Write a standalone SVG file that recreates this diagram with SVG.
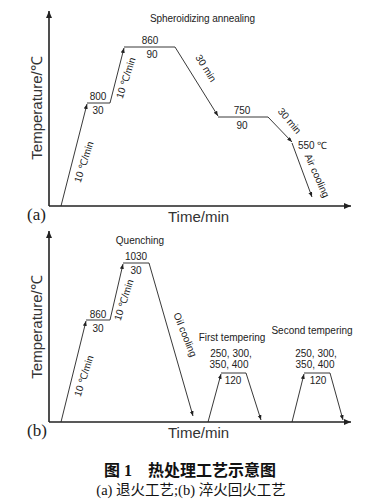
<svg xmlns="http://www.w3.org/2000/svg" width="369" height="500" viewBox="0 0 369 500">
<defs>
<marker id="ah" markerWidth="8" markerHeight="8" refX="7" refY="3" orient="auto" markerUnits="userSpaceOnUse"><path d="M0,0 L7,3 L0,6 Z" fill="#222"/></marker>
<marker id="sa" markerWidth="6" markerHeight="6" refX="5" refY="2" orient="auto" markerUnits="userSpaceOnUse"><path d="M0,0 L5,2 L0,4 Z" fill="#222"/></marker>
<style>
.ax{stroke:#222;stroke-width:1.6;fill:none}
.ln{stroke:#222;stroke-width:0.9;fill:none}
.t{font-family:"Liberation Sans",Arial,sans-serif;font-size:10px;fill:#222}
.c{text-anchor:middle}
.big{font-family:"Liberation Sans",Arial,sans-serif;font-size:15px;fill:#333}
.ser{font-family:"Liberation Serif","Times New Roman",serif;font-size:17px;fill:#222}
.cap{font-family:"Liberation Serif","Noto Sans CJK SC",serif;fill:#111;text-anchor:middle}
</style>
</defs>
<rect width="369" height="500" fill="#fff"/>
<g id="axes">
<line class="ax" x1="49" y1="206" x2="49" y2="11" marker-end="url(#ah)"/>
<line class="ax" x1="49" y1="206" x2="351" y2="206" marker-end="url(#ah)"/>
<line class="ax" x1="49" y1="422" x2="49" y2="231" marker-end="url(#ah)"/>
<line class="ax" x1="49" y1="422" x2="351" y2="422" marker-end="url(#ah)"/>
<text class="big" transform="translate(42,108) rotate(-90)" text-anchor="middle">Temperature/℃</text>
<text class="big" transform="translate(42,327) rotate(-90)" text-anchor="middle">Temperature/℃</text>
<text class="big" x="168" y="222">Time/min</text>
<text class="big" x="168" y="438">Time/min</text>
<text class="ser" x="27" y="220">(a)</text>
<text class="ser" x="27" y="436">(b)</text>
</g>
<g id="connectors">
<path class="ln" d="M61,206 L87,104" marker-end="url(#sa)"/>
<path class="ln" d="M87,103 L110,103 L124,48" marker-end="url(#sa)"/>
<path class="ln" d="M124,47 L175,47 L218,116" marker-end="url(#sa)"/>
<path class="ln" d="M218,117 L268,117 L292,142" marker-end="url(#sa)"/>
<path class="ln" d="M292,143 L312,197" marker-end="url(#sa)"/>
<path class="ln" d="M61,422 L86,321" marker-end="url(#sa)"/>
<path class="ln" d="M86,320 L110,320 L123,264" marker-end="url(#sa)"/>
<path class="ln" d="M123,263 L149,263 L193,416" marker-end="url(#sa)"/>
<path class="ln" d="M208,422 L221,374" marker-end="url(#sa)"/>
<path class="ln" d="M221,373 L246,373 L261,420" marker-end="url(#sa)"/>
<path class="ln" d="M292,422 L304,374" marker-end="url(#sa)"/>
<path class="ln" d="M304,373 L330,373 L343,420" marker-end="url(#sa)"/>
</g>
<g id="annealing">
<text class="t" x="150" y="22" textLength="105">Spheroidizing annealing</text>
<text class="t c" x="98" y="100">800</text>
<text class="t c" x="98" y="114">30</text>
<text class="t c" x="150" y="44">860</text>
<text class="t c" x="152" y="58">90</text>
<text class="t c" x="242" y="114">750</text>
<text class="t c" x="242" y="129">90</text>
<text class="t" x="298" y="149">550 ℃</text>
<text class="t c" transform="translate(87,163) rotate(-72)">10 ℃/min</text>
<text class="t c" transform="translate(129,79) rotate(-72)">10 ℃/min</text>
<text class="t c" transform="translate(203,70) rotate(58)">30 min</text>
<text class="t c" transform="translate(287,123) rotate(50)">30 min</text>
<text class="t c" transform="translate(314,177) rotate(66)">Air cooling</text>
</g>
<g id="quenching">
<text class="t c" x="140" y="244">Quenching</text>
<text class="t c" x="136" y="260">1030</text>
<text class="t c" x="136" y="274">30</text>
<text class="t c" x="98" y="318">860</text>
<text class="t c" x="98" y="332">30</text>
<text class="t c" transform="translate(87,377) rotate(-72)">10 ℃/min</text>
<text class="t c" transform="translate(127,301) rotate(-72)">10 ℃/min</text>
<text class="t c" transform="translate(182,336) rotate(68)">Oil cooling</text>
</g>
<g id="tempering1">
<text class="t c" x="232" y="341">First tempering</text>
<text class="t c" x="231" y="357">250, 300,</text>
<text class="t c" x="229" y="368">350, 400</text>
<text class="t c" x="233" y="384">120</text>
</g>
<g id="tempering2">
<text class="t c" x="312" y="334">Second tempering</text>
<text class="t c" x="316" y="357">250, 300,</text>
<text class="t c" x="315" y="368">350, 400</text>
<text class="t c" x="318" y="384">120</text>
</g>
<g id="caption">
<text class="cap" x="190" y="476" font-size="16" font-weight="bold">图 1　热处理工艺示意图</text>
<text class="cap" x="191" y="495" font-size="14.5">(a) 退火工艺;(b) 淬火回火工艺</text>
</g>
</svg>
